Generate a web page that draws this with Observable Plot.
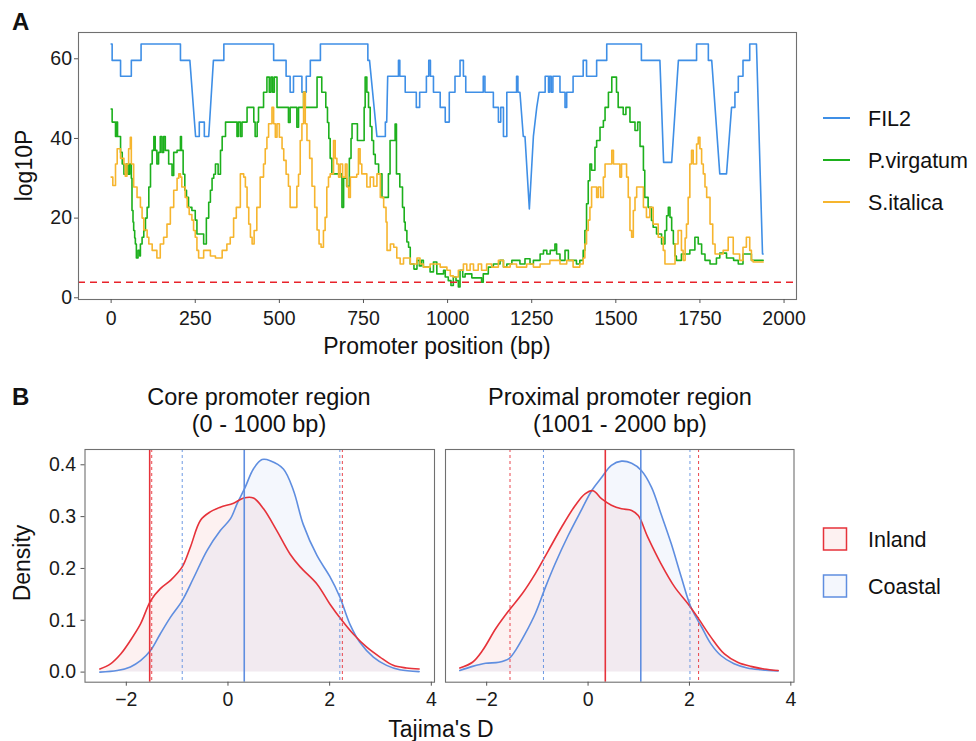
<!DOCTYPE html>
<html><head><meta charset="utf-8">
<script src="https://cdn.jsdelivr.net/npm/d3@7"></script>
<script src="https://cdn.jsdelivr.net/npm/@observablehq/plot@0.6"></script>
<style>
body{margin:0;background:#fff;}
#wrap{position:relative;width:976px;height:741px;overflow:hidden;background:#fff;}
.abs{position:absolute;}
.abs svg{display:block;}
</style></head><body><div id="wrap"></div>
<script>
// ---------------- DATA ----------------
const seriesNames = ["FIL2", "P.virgatum", "S.italica"];
const groupNames = ["Inland", "Coastal"];
const xTicksA = [0, 250, 500, 750, 1000, 1250, 1500, 1750, 2000];
const yTicksA = [0, 20, 40, 60];
const xTicksB = [-2, 0, 2, 4];
const yTicksB = [0, 0.1, 0.2, 0.3, 0.4];
const threshold = 3.9;

// FIL2: [promoter position, log10P] vertices
const fil2 = [[0,63.7],[3,63.7],[3,59.6],[28,59.6],[28,55.6],[60,55.6],[60,59.6],[89,59.6],[89,63.7],[206,63.7],[206,59.6],[234,59.6],[251,40.5],[262,40.5],[262,44.1],[277,44.1],[277,40.5],[290,40.5],[304,59.6],[335,59.6],[335,63.7],[483,63.7],[483,59.6],[520,59.6],[520,55.6],[532,55.6],[532,51.6],[542,51.6],[542,55.6],[567,55.6],[567,51.6],[580,51.6],[580,55.6],[592,55.6],[592,59.6],[622,59.6],[622,63.7],[763,63.7],[763,59.6],[768,59.6],[790,40.5],[815,40.5],[815,44.1],[819,44.1],[822,55.6],[854,55.6],[854,59.6],[858,59.6],[858,55.6],[874,55.6],[874,51.6],[907,51.6],[907,47.8],[917,47.8],[917,51.6],[937,51.6],[937,55.6],[944,55.6],[944,59.6],[949,59.6],[949,55.6],[958,55.6],[958,51.6],[978,51.6],[978,47.8],[993,47.8],[993,44.1],[1005,44.1],[1005,51.6],[1022,51.6],[1022,55.6],[1037,55.6],[1037,59.6],[1047,59.6],[1047,55.6],[1054,55.6],[1054,51.6],[1106,51.6],[1106,55.6],[1111,55.6],[1111,51.6],[1136,51.6],[1136,47.8],[1151,47.8],[1151,44.1],[1158,44.1],[1158,47.8],[1166,47.8],[1166,40.5],[1176,40.5],[1176,51.6],[1205,51.6],[1205,55.6],[1209,55.6],[1209,51.6],[1215,51.6],[1225,40.5],[1230,40.5],[1243,22.3],[1255,40.5],[1265,47.8],[1272,51.6],[1290,51.6],[1290,55.6],[1300,55.6],[1300,51.6],[1303,51.6],[1303,55.6],[1308,55.6],[1308,51.6],[1313,51.6],[1313,55.6],[1334,55.6],[1334,51.6],[1349,51.6],[1349,47.8],[1354,47.8],[1354,51.6],[1373,51.6],[1373,55.6],[1403,55.6],[1403,59.6],[1413,59.6],[1413,55.6],[1443,55.6],[1443,59.6],[1473,59.6],[1473,63.7],[1576,63.7],[1576,59.6],[1631,59.6],[1642,34],[1666,34],[1686,59.6],[1740,59.6],[1740,63.7],[1775,63.7],[1775,59.6],[1785,59.6],[1809,31.1],[1829,31.1],[1844,47.8],[1854,47.8],[1854,51.6],[1864,51.6],[1864,55.6],[1878,55.6],[1878,59.6],[1898,59.6],[1898,63.7],[1918,63.7],[1936,11],[1938,11]];

// P.virgatum: [position, log10P] step breakpoints
const pvirgatum = [[0,47.4],[3,44.1],[13,40.5],[16,44.1],[19,40.5],[28,36.5],[33,33.6],[38,31],[45,33.6],[50,31],[55,33.6],[60,30],[62,21.9],[65,19],[67,16.9],[70,15],[72,13.5],[75,10],[80,11.9],[85,10.5],[87,13.5],[92,15.2],[97,16.9],[102,20],[107,22.7],[112,27.8],[117,33.6],[122,37],[127,40.5],[131,37],[136,33.6],[141,36.5],[146,40.5],[151,36.5],[156,40.5],[161,37],[171,33.6],[181,30.7],[186,36.5],[196,37],[206,40.5],[209,37],[214,31],[219,27],[224,25.2],[230,22.7],[240,21.9],[250,19.5],[255,16],[275,13.5],[283,20],[290,24],[295,27],[300,30],[305,31],[310,33.6],[318,31],[325,37],[330,40.5],[340,44.1],[374,40.5],[378,44.1],[384,40.5],[389,44.1],[404,47.8],[424,44.1],[428,40.5],[434,44.1],[438,47.8],[453,51.6],[463,55.4],[470,51.6],[475,55.4],[480,51.6],[485,55.4],[493,47.8],[527,44],[532,47.8],[552,42.8],[557,47.8],[572,51.6],[577,47.8],[612,55.4],[626,51.6],[638,47.8],[643,44],[647,40],[651,35],[656,31.1],[686,22.7],[691,30],[700,28],[708,35],[713,40],[716,43.7],[732,39.5],[752,47.8],[755,55.4],[760,51.6],[765,47.8],[770,43],[775,39.5],[780,36],[785,33.6],[795,31.1],[805,25.2],[824,31.1],[829,39.5],[844,43.6],[848,31.1],[858,27.8],[866,22.7],[871,19],[874,16.9],[879,14],[884,12.7],[889,8.5],[900,7.2],[909,9.4],[916,8],[922,9.4],[928,7.7],[948,6.5],[958,9],[968,6],[988,6.9],[993,5.2],[1002,4.3],[1010,3.1],[1017,5.2],[1025,4.3],[1032,2.7],[1037,6.9],[1045,5.2],[1052,6],[1072,5],[1101,3.9],[1106,6],[1121,7.7],[1136,8.5],[1156,9.4],[1166,7.7],[1176,8.5],[1191,9.4],[1215,8.5],[1230,9.8],[1245,8.5],[1255,9.4],[1275,11],[1285,11.9],[1295,11],[1305,11.9],[1319,13.5],[1324,11],[1334,9.4],[1349,11.9],[1359,9.4],[1383,8.5],[1393,9.4],[1403,11.9],[1408,16.9],[1413,23.6],[1418,29.4],[1423,33.6],[1428,32],[1438,37.8],[1443,39.5],[1453,42.8],[1463,44.5],[1468,47.8],[1478,51.6],[1488,55.4],[1502,51.6],[1507,47.8],[1522,46],[1530,47.8],[1542,44.1],[1557,42],[1565,44.1],[1572,38],[1582,32],[1586,25.2],[1596,22.7],[1606,19.4],[1611,17.7],[1621,16],[1636,13.5],[1646,16.9],[1651,20.6],[1656,22.7],[1661,20.2],[1666,16.9],[1671,13.5],[1676,10.5],[1680,9.4],[1695,11],[1720,12],[1735,15.2],[1745,13.5],[1755,11],[1765,9.4],[1780,8.5],[1799,10],[1809,11.2],[1829,10],[1850,9.4],[1864,8.5],[1878,11],[1903,9.4],[1938,9.4]];

// S.italica: [position, log10P] step breakpoints
const sitalica = [[0,30.3],[5,28.2],[13,33.6],[18,37.4],[28,35],[38,33.6],[42,30.5],[47,33.6],[52,37.4],[57,40.3],[60,33.6],[67,27.8],[77,25.2],[87,22.7],[92,20],[97,17],[107,15.2],[112,13.5],[122,11.9],[136,10],[146,13.5],[156,15.2],[166,18.5],[176,22.7],[186,27],[196,30],[201,31.1],[206,30.3],[210,27.8],[220,25.2],[226,22.7],[232,20.9],[240,19.5],[245,16.9],[250,15.2],[255,11.9],[260,10],[275,11.9],[295,10.5],[310,10],[330,11.9],[344,13.5],[354,15.2],[364,20],[372,22.7],[384,31.1],[394,30.3],[399,27.8],[404,22.7],[409,18.5],[414,15.2],[419,13.5],[425,16.9],[433,22.7],[443,30.3],[453,33.6],[458,37.4],[463,40.3],[468,43.7],[478,47.8],[483,43.7],[488,40.3],[493,43.7],[500,40.3],[508,37.4],[513,34.5],[520,31],[527,28],[532,22.7],[552,28],[557,31],[562,39.5],[567,43.7],[572,51.6],[577,43.7],[582,39.5],[590,35],[597,28],[605,22.7],[612,17],[618,13.5],[624,12.7],[631,16.9],[636,20.2],[641,27.8],[646,30.3],[651,31.1],[661,39.5],[666,35],[671,33.6],[676,30.3],[681,33.6],[688,30.3],[696,33.6],[701,27.8],[706,25.2],[711,30.3],[730,31],[735,37.4],[740,33.6],[745,31.1],[760,27.8],[770,30.3],[780,28],[790,31.1],[800,25.2],[810,22.7],[817,19],[820,11.9],[830,13.5],[840,12.7],[849,10],[859,8.5],[869,10],[889,8.5],[909,10],[918,8.5],[928,7.7],[948,8.5],[978,7.7],[998,6.9],[1008,5.5],[1017,5.2],[1032,6.9],[1047,8.5],[1057,6.9],[1067,8.5],[1077,6.9],[1091,8.5],[1101,6.9],[1116,8.5],[1131,7.7],[1151,9.4],[1166,7.7],[1186,8.5],[1205,7.7],[1235,8.5],[1255,7.7],[1275,8.5],[1304,9.4],[1334,8.5],[1354,9.4],[1373,7.7],[1393,8.5],[1403,10],[1408,13.5],[1413,16.9],[1418,19.5],[1423,22.7],[1428,27.8],[1443,25.2],[1448,27.8],[1455,25.2],[1463,30.3],[1468,33.6],[1488,37],[1493,33.6],[1512,30.3],[1517,33.6],[1532,30.3],[1537,25.2],[1542,16.9],[1547,15.2],[1552,21.9],[1557,25.2],[1562,27.8],[1582,22.7],[1591,20.2],[1601,22.7],[1611,18.5],[1626,15.2],[1641,11.9],[1646,8.5],[1676,13.5],[1685,16.9],[1695,11.9],[1700,9.4],[1706,15],[1710,18.5],[1715,25.2],[1720,33.6],[1725,37],[1730,33.6],[1740,38.6],[1745,40.3],[1750,37.4],[1755,33.6],[1760,31.1],[1765,27.8],[1770,25.2],[1780,18.5],[1788,13.5],[1795,11],[1819,11.9],[1834,15.2],[1849,11],[1868,9.4],[1878,12.7],[1888,15.2],[1898,11.9],[1903,9.4],[1908,9],[1938,9]];

// Panel B: density of Tajima's D  [D, density]
const coreInland = [[-2.52,0.006],[-2.31,0.016],[-2.11,0.035],[-1.92,0.061],[-1.72,0.093],[-1.52,0.138],[-1.33,0.161],[-1.13,0.177],[-0.9,0.203],[-0.74,0.241],[-0.54,0.293],[-0.35,0.309],[-0.15,0.318],[0.11,0.326],[0.31,0.336],[0.5,0.336],[0.7,0.315],[0.96,0.273],[1.22,0.228],[1.42,0.203],[1.75,0.170],[2.0,0.132],[2.24,0.100],[2.46,0.074],[2.73,0.048],[2.99,0.029],[3.25,0.013],[3.51,0.008],[3.76,0.006]];
const coreCoastal = [[-2.52,0.0],[-2.18,0.003],[-1.92,0.01],[-1.72,0.022],[-1.52,0.042],[-1.33,0.074],[-1.13,0.106],[-0.9,0.138],[-0.67,0.183],[-0.41,0.235],[-0.15,0.273],[0.05,0.296],[0.18,0.325],[0.34,0.357],[0.5,0.392],[0.67,0.41],[0.83,0.408],[1.09,0.392],[1.29,0.35],[1.48,0.285],[1.75,0.225],[2.0,0.185],[2.2,0.145],[2.4,0.092],[2.59,0.058],[2.86,0.029],[3.12,0.013],[3.38,0.0045],[3.76,0.001]];
const proxInland = [[-2.53,0.008],[-2.28,0.019],[-2.08,0.042],[-1.82,0.084],[-1.56,0.119],[-1.30,0.151],[-1.04,0.19],[-0.78,0.235],[-0.52,0.28],[-0.25,0.322],[-0.06,0.344],[0.10,0.35],[0.27,0.334],[0.46,0.322],[0.66,0.315],[0.86,0.312],[0.99,0.302],[1.18,0.26],[1.44,0.209],[1.71,0.164],[1.97,0.132],[2.16,0.106],[2.42,0.068],[2.69,0.035],[2.95,0.019],[3.21,0.011],[3.47,0.006],[3.75,0.003]];
const proxCoastal = [[-2.53,0.003],[-2.28,0.011],[-2.02,0.017],[-1.76,0.019],[-1.56,0.026],[-1.43,0.042],[-1.24,0.074],[-1.04,0.113],[-0.84,0.164],[-0.65,0.209],[-0.39,0.264],[-0.12,0.315],[0.07,0.35],[0.27,0.376],[0.46,0.399],[0.66,0.407],[0.86,0.403],[1.05,0.389],[1.25,0.357],[1.44,0.305],[1.64,0.248],[1.84,0.183],[2.03,0.125],[2.24,0.087],[2.42,0.055],[2.62,0.032],[2.88,0.016],[3.14,0.008],[3.41,0.0045],[3.75,0.002]];

// Reference lines (mean = solid, quantiles = dashed)
const vlineGroup = ["Inland", "Inland", "Inland", "Coastal", "Coastal", "Coastal"];
const vlineKind = ["mean", "quantile", "quantile", "mean", "quantile", "quantile"];
const coreVlines = [-1.54, -1.50, 2.25, 0.32, -0.90, 2.20];
const proxVlines = [0.34, -1.54, 2.18, 1.04, -0.88, 2.01];

// ---------------- STYLE ----------------
const colors = {"FIL2": "#3f8fe6", "P.virgatum": "#1db01d", "S.italica": "#f6b52e", "Inland": "#e6323a", "Coastal": "#5f8ee0"};
const thrColor = "#e8222a";
const font = "'Liberation Sans', Arial, Helvetica, sans-serif";
const baseStyle = {fontFamily: font, fontSize: "19.5px", background: "transparent", color: "#1a1a1a", overflow: "visible"};
const frameColor = "#707070";
const tickColor = "#555";

const wrap = d3.select("#wrap");
function place(node, left, top) {
  const div = wrap.append("div").attr("class", "abs").style("left", left + "px").style("top", top + "px");
  div.node().appendChild(node);
}
const rows = pts => pts.map(([x, y]) => ({x, y}));

// ---------------- PANEL A ----------------
const plotA = Plot.plot({
  width: 800, height: 345,
  marginLeft: 78, marginRight: 4, marginTop: 32, marginBottom: 46,
  style: baseStyle,
  x: {domain: [-97, 2037], axis: null},
  y: {domain: [-0.43, 66.6], axis: null},
  marks: [
    Plot.line(rows(fil2), {x: "x", y: "y", stroke: colors["FIL2"], strokeWidth: 1.6}),
    Plot.line(rows(pvirgatum), {x: "x", y: "y", curve: "step-after", stroke: colors["P.virgatum"], strokeWidth: 1.6}),
    Plot.line(rows(sitalica), {x: "x", y: "y", curve: "step-after", stroke: colors["S.italica"], strokeWidth: 1.6}),
    Plot.ruleY([threshold], {stroke: thrColor, strokeWidth: 1.6, strokeDasharray: "7,5"}),
    Plot.frame({stroke: frameColor, strokeWidth: 1.1}),
    Plot.axisX({ticks: xTicksA, tickFormat: d3.format("d"), tickSize: 4, tickPadding: 8, stroke: tickColor, fill: "#1a1a1a", label: null}),
    Plot.axisY({ticks: yTicksA, tickFormat: d3.format("d"), tickSize: 4, tickPadding: 2.5, stroke: tickColor, fill: "#1a1a1a", label: null})
  ]
});
place(plotA, 0, 0);

// ---------------- PANEL B ----------------
function densityPanel(inland, coastal, vlines, opts) {
  const vl = vlines.map((x, i) => ({x, g: vlineGroup[i], k: vlineKind[i]}));
  const marks = [
    Plot.areaY(rows(inland), {x: "x", y: "y", curve: "catmull-rom", fill: colors["Inland"], fillOpacity: 0.07}),
    Plot.areaY(rows(coastal), {x: "x", y: "y", curve: "catmull-rom", fill: colors["Coastal"], fillOpacity: 0.07}),
    Plot.line(rows(coastal), {x: "x", y: "y", curve: "catmull-rom", stroke: colors["Coastal"], strokeWidth: 1.6}),
    Plot.line(rows(inland), {x: "x", y: "y", curve: "catmull-rom", stroke: colors["Inland"], strokeWidth: 1.6}),
    Plot.ruleX(vl.filter(d => d.k === "quantile"), {x: "x", stroke: d => colors[d.g], strokeWidth: 0.9, strokeDasharray: "3,3"}),
    Plot.ruleX(vl.filter(d => d.k === "mean"), {x: "x", stroke: d => colors[d.g], strokeWidth: 1.6}),
    Plot.frame({stroke: frameColor, strokeWidth: 1.1}),
    Plot.axisX({ticks: xTicksB, tickFormat: d3.format("d"), tickSize: 4, tickPadding: 6, stroke: tickColor, fill: "#1a1a1a", label: null})
  ];
  if (opts.yAxis) marks.push(Plot.axisY({ticks: yTicksB, tickFormat: d3.format(".1f"), tickSize: 4, tickPadding: 5, stroke: tickColor, fill: "#1a1a1a", label: null}));
  return Plot.plot({
    width: opts.width, height: 301,
    marginLeft: opts.ml, marginRight: opts.mr, marginTop: 9, marginBottom: 59.3,
    style: baseStyle,
    x: {domain: [-2.8125, 4.0625], axis: null},
    y: {domain: [-0.0195, 0.4295], axis: null},
    marks
  });
}
place(densityPanel(coreInland, coreCoastal, coreVlines, {width: 440, ml: 84.5, mr: 6, yAxis: true}), 0, 440);
place(densityPanel(proxInland, proxCoastal, proxVlines, {width: 360, ml: 5, mr: 6.5, yAxis: false}), 440, 440);

// ---------------- TEXT & LEGENDS ----------------
const ov = wrap.append("svg").attr("width", 976).attr("height", 741)
  .style("position", "absolute").style("left", "0px").style("top", "0px")
  .style("font-family", font).style("pointer-events", "none");
const txt = (x, y, s, size, o = {}) => {
  const t = ov.append("text").attr("x", x).attr("y", y).text(s)
    .attr("font-size", size).attr("fill", "#111")
    .attr("text-anchor", o.anchor || "start");
  if (o.bold) t.attr("font-weight", "bold");
  if (o.rotate) t.attr("transform", `rotate(-90 ${x} ${y})`);
  return t;
};
txt(12, 30, "A", 24, {bold: true});
txt(12, 405, "B", 24, {bold: true});
txt(437, 354, "Promoter position (bp)", 23, {anchor: "middle"});
txt(32, 165.5, "log10P", 23, {anchor: "middle", rotate: true});
txt(30, 563, "Density", 23, {anchor: "middle", rotate: true});
txt(441, 737, "Tajima's D", 23, {anchor: "middle"});
txt(259, 405, "Core promoter region", 23.5, {anchor: "middle"});
txt(259, 432, "(0 - 1000 bp)", 23.5, {anchor: "middle"});
txt(620, 405, "Proximal promoter region", 23.5, {anchor: "middle"});
txt(620, 432, "(1001 - 2000 bp)", 23.5, {anchor: "middle"});

// legend A
const legA = [118, 160, 202];
seriesNames.forEach((s, i) => {
  ov.append("line").attr("x1", 823).attr("x2", 850).attr("y1", legA[i]).attr("y2", legA[i])
    .attr("stroke", colors[s]).attr("stroke-width", 2);
  txt(868, legA[i] + 7.5, s, 21.5);
});
// legend B
const legB = [539, 586];
groupNames.forEach((g, i) => {
  ov.append("rect").attr("x", 823.5).attr("y", legB[i] - 11).attr("width", 23).attr("height", 22)
    .attr("fill", colors[g]).attr("fill-opacity", 0.07).attr("stroke", colors[g]).attr("stroke-width", 1.5);
  txt(868, legB[i] + 8, g, 21.5);
});
</script></body></html>
